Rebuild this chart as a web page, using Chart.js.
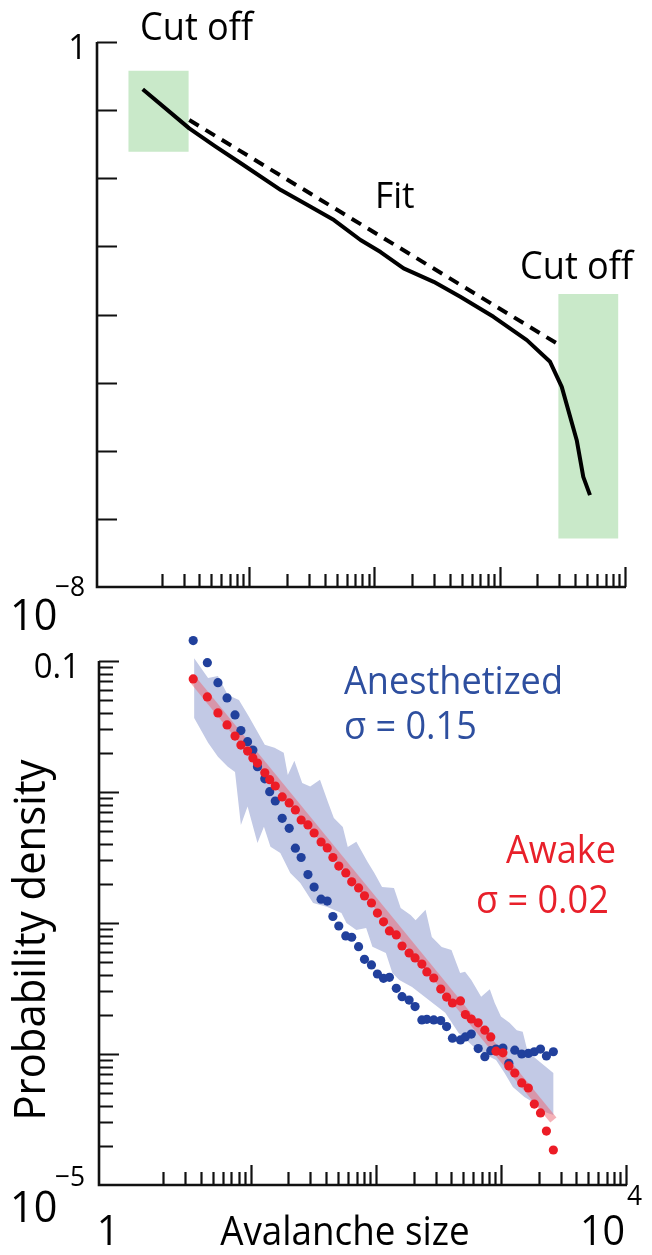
<!DOCTYPE html>
<html>
<head>
<meta charset="utf-8">
<script src="https://cdn.jsdelivr.net/npm/chart.js@4.4.0/dist/chart.umd.min.js"></script>
<style>
  html, body { margin: 0; padding: 0; background: #fff; }
  #wrap { position: relative; width: 652px; height: 1255px; overflow: hidden; }
  canvas { position: absolute; left: 0; }
  #topChart { top: 0; }
  #bottomChart { top: 600px; }
</style>
</head>
<body>
<div id="wrap">
  <canvas id="topChart" width="652" height="640"></canvas>
  <canvas id="bottomChart" width="652" height="655"></canvas>
</div>
<script>
// ---- top panel: distribution with fit and cut-off windows ----
const topSize = [1.39, 3.27, 5.24, 8.43, 17.6, 27.8, 46.7, 76.1, 110, 168, 292, 476, 876, 1617, 2478, 3071, 4044, 4562, 5159];
const topProb = [0.202, 0.054, 0.0297, 0.0166, 0.00671, 0.00418, 0.00243, 0.00124, 8.25e-4, 4.75e-4, 3.02e-4, 1.82e-4, 9.25e-5, 4.21e-5, 2.02e-5, 8.67e-6, 1.43e-6, 4.14e-7, 2.23e-7];
const topFitSize = [3.27, 2803];
const topFitProb = [0.0716, 3.77e-5];
const cutoffLeftSize = [1.07, 3.23];
const cutoffLeftProb = [0.379, 0.0245];
const cutoffRightSize = [2886, 8666];
const cutoffRightProb = [2.0e-4, 5.15e-8];

// ---- bottom panel: anesthetized vs awake ----
const binSize = [3.40, 4.41, 5.36, 6.34, 7.34, 8.18, 9.25, 10.2, 11.1, 12.7,
  13.9, 15.4, 17.5, 19.9, 22.3, 24.8, 28.1, 31.5, 35.8, 40.1,
  44.5, 49.6, 56.4, 62.9, 71.4, 79.6, 90.5, 101, 113, 126,
  143, 159, 181, 202, 229, 251, 285, 324, 361, 402,
  466, 510, 569, 646, 730, 814, 897, 1018, 1136, 1267,
  1439, 1626, 1814, 2034, 2268, 2577];
const anesthetized = [0.143, 0.0970, 0.0683, 0.0522, 0.0387, 0.0294, 0.0242, 0.0209, 0.0156, 0.0126,
  0.01005, 0.00853, 0.00629, 0.00528, 0.00372, 0.00316, 0.00234, 0.00188, 0.00152, 0.00147,
  0.00112, 9.48e-4, 7.96e-4, 7.78e-4, 6.59e-4, 5.28e-4, 4.78e-4, 4.08e-4, 3.78e-4, 3.85e-4,
  3.17e-4, 2.74e-4, 2.58e-4, 2.30e-4, 1.82e-4, 1.84e-4, 1.82e-4, 1.80e-4, 1.62e-4, 1.32e-4,
  1.28e-4, 1.35e-4, 1.42e-4, 1.10e-4, 9.53e-5, 1.06e-4, 1.09e-4, 1.11e-4, 8.50e-5, 1.07e-4,
  1.00e-4, 1.01e-4, 1.04e-4, 1.09e-4, 9.66e-5, 1.04e-4];
const awake = [0.0729, 0.0531, 0.0401, 0.0325, 0.0267, 0.0228, 0.0205, 0.0182, 0.0166, 0.0140,
  0.0124, 0.0111, 0.00917, 0.00824, 0.00729, 0.00611, 0.00560, 0.00486, 0.00415, 0.00374,
  0.00316, 0.00272, 0.00241, 0.00206, 0.00185, 0.00161, 0.00142, 0.00119, 0.00102, 8.69e-4,
  8.10e-4, 6.67e-4, 5.90e-4, 5.41e-4, 4.86e-4, 4.23e-4, 3.80e-4, 3.13e-4, 2.72e-4, 2.45e-4,
  2.54e-4, 2.00e-4, 1.85e-4, 1.73e-4, 1.52e-4, 1.35e-4, 1.05e-4, 1.02e-4, 8.10e-5, 7.16e-5,
  6.01e-5, 5.50e-5, 4.15e-5, 3.55e-5, 2.58e-5, 1.85e-5];
const awakeFitSize = [3.40, 2577];
const awakeFitProb = [0.0716, 3.13e-5];
const bandTopSize = [3.46, 4.47, 5.36, 6.43, 7.89, 9.47, 12.7, 15.2, 18.0, 19.4,
  21.9, 25.3, 29.3, 35.1, 40.6, 45.3, 53.4, 58.5, 68.5, 84.1,
  95.5, 110, 137, 155, 186, 204, 245, 275, 330, 395,
  423, 463, 507, 569, 682, 800, 876, 982, 1150, 1314,
  1466, 1606, 1926, 2577];
const bandTopProb = [0.105, 0.0742, 0.0767, 0.0549, 0.0503, 0.0376, 0.0229, 0.0217, 0.0199, 0.0135,
  0.0173, 0.0117, 0.0110, 0.0124, 0.00839, 0.00634, 0.00541, 0.00380, 0.00417, 0.00293,
  0.00241, 0.00188, 0.00185, 0.00130, 0.00115, 0.00105, 0.00126, 7.81e-4, 6.56e-4, 6.22e-4,
  5.22e-4, 4.15e-4, 4.25e-4, 3.67e-4, 2.74e-4, 3.12e-4, 2.45e-4, 1.93e-4, 1.73e-4, 1.52e-4,
  1.48e-4, 1.04e-4, 9.0e-5, 7.16e-5];
const bandLowSize = [3.46, 4.47, 5.36, 6.43, 7.34, 8.18, 9.25, 11.1, 12.5, 14.1,
  16.9, 20.3, 24.4, 30.9, 39.7, 52.1, 57.1, 68.5, 82.1, 92.1,
  118, 133, 151, 191, 260, 352, 449, 609, 747, 897,
  1050, 1222, 1512, 1814, 2175, 2577];
const bandLowProb = [0.0367, 0.0237, 0.0186, 0.0156, 0.0142, 0.00560, 0.00773, 0.00408, 0.00543, 0.00382,
  0.00342, 0.00241, 0.00202, 0.00142, 0.00133, 0.00119, 1.0e-3, 8.85e-4, 9.16e-4, 6.59e-4,
  5.90e-4, 4.15e-4, 3.67e-4, 3.24e-4, 2.58e-4, 2.06e-4, 1.45e-4, 1.11e-4, 9.82e-5, 9.0e-5,
  7.16e-5, 5.60e-5, 4.70e-5, 4.23e-5, 3.63e-5, 3.42e-5];

// ---- ticks ----
const xMajorTicks = [10, 100, 1000, 10000];
const xMinorTicks = [2, 3, 4, 5, 6, 7, 8, 9, 20, 30, 40, 50, 60, 70, 80, 90,
  200, 300, 400, 500, 600, 700, 800, 900, 2000, 3000, 4000, 5000, 6000, 7000, 8000, 9000];
const topYTicks = [1, 0.1, 0.01, 1e-3, 1e-4, 1e-5, 1e-6, 1e-7];
const bottomYMajorTicks = [0.1, 0.01, 1e-3, 1e-4];
const bottomYMinorTicks = [0.09, 0.08, 0.07, 0.06, 0.05, 0.04, 0.03, 0.02,
  0.009, 0.008, 0.007, 0.006, 0.005, 0.004, 0.003, 0.002,
  9e-4, 8e-4, 7e-4, 6e-4, 5e-4, 4e-4, 3e-4, 2e-4,
  9e-5, 8e-5, 7e-5, 6e-5, 5e-5, 4e-5, 3e-5, 2e-5];

const FONT = '"Open Sans", "DejaVu Sans", sans-serif';
const BLUE = '#21409c';
const RED = '#ec1c26';

function pts(xs, ys) {
  return xs.map((x, i) => ({ x: x, y: ys[i] }));
}
function box(xs, ys) {
  return [{ x: xs[0], y: ys[0] }, { x: xs[1], y: ys[0] }, { x: xs[1], y: ys[1] }, { x: xs[0], y: ys[1] }];
}
// text with a slight horizontal squeeze (the original face is narrower)
function text(ctx, s, x, y, size, color, align, sx) {
  ctx.save();
  ctx.translate(x, y);
  ctx.scale(sx || 0.94, 1);
  ctx.font = size + 'px ' + FONT;
  ctx.fillStyle = color || '#000';
  ctx.textAlign = align || 'left';
  ctx.textBaseline = 'alphabetic';
  ctx.fillText(s, 0, 0);
  ctx.restore();
}

// axes with inward ticks, drawn through the chart scales
const axesPlugin = {
  id: 'inwardAxes',
  afterDatasetsDraw(chart, args, opts) {
    const { ctx, chartArea: a, scales: { x, y } } = chart;
    const top = opts.yTop ? y.getPixelForValue(opts.yTop) : a.top;
    ctx.save();
    ctx.strokeStyle = '#111';
    ctx.lineWidth = 2.6;
    ctx.beginPath();
    ctx.moveTo(a.left, top);
    ctx.lineTo(a.left, a.bottom);
    ctx.lineTo(a.right, a.bottom);
    ctx.stroke();
    ctx.lineWidth = 2.2;
    ctx.beginPath();
    (opts.xMajor || []).forEach(v => {
      const p = Math.round(x.getPixelForValue(v)) - 0.5;
      ctx.moveTo(p, a.bottom); ctx.lineTo(p, a.bottom - 20);
    });
    (opts.xMinor || []).forEach(v => {
      const p = Math.round(x.getPixelForValue(v)) - 0.5;
      ctx.moveTo(p, a.bottom); ctx.lineTo(p, a.bottom - 13);
    });
    (opts.yMajor || []).forEach(v => {
      const p = Math.round(y.getPixelForValue(v)) + 0.5;
      ctx.moveTo(a.left, p); ctx.lineTo(a.left + 20, p);
    });
    (opts.yMinor || []).forEach(v => {
      const p = Math.round(y.getPixelForValue(v)) + 0.5;
      ctx.moveTo(a.left, p); ctx.lineTo(a.left + 14, p);
    });
    ctx.stroke();
    ctx.restore();
    if (opts.labels) opts.labels(chart);
  }
};

function baseOptions(padding, xMin, yMin, yMax, axisOpts) {
  return {
    responsive: false,
    animation: false,
    events: [],
    layout: { padding: padding },
    plugins: { legend: { display: false }, tooltip: { enabled: false }, inwardAxes: axisOpts },
    scales: {
      x: { type: 'logarithmic', min: xMin, max: 10000, display: false },
      y: { type: 'logarithmic', min: yMin, max: yMax, display: false }
    }
  };
}

// ---------- top chart ----------
new Chart(document.getElementById('topChart'), {
  type: 'scatter',
  plugins: [axesPlugin],
  data: {
    datasets: [
      { data: pts(topSize, topProb), showLine: true, borderColor: '#000', borderWidth: 4,
        pointRadius: 0, tension: 0, borderJoinStyle: 'round', borderCapStyle: 'butt', clip: false, order: 1 },
      { data: pts(topFitSize, topFitProb), showLine: true, borderColor: '#000', borderWidth: 4,
        borderDash: [11, 8], pointRadius: 0, clip: false, order: 2 },
      { data: box(cutoffLeftSize, cutoffLeftProb), showLine: true, borderWidth: 0, borderColor: 'rgba(0,0,0,0)',
        backgroundColor: '#c9e9c9', fill: 'shape', pointRadius: 0, clip: false, order: 5 },
      { data: box(cutoffRightSize, cutoffRightProb), showLine: true, borderWidth: 0, borderColor: 'rgba(0,0,0,0)',
        backgroundColor: '#c9e9c9', fill: 'shape', pointRadius: 0, clip: false, order: 5 }
    ]
  },
  options: baseOptions({ left: 97, right: 26, top: 42, bottom: 53 }, 0.615, 1e-8, 1, {
    xMajor: xMajorTicks, xMinor: xMinorTicks, yMajor: topYTicks, yMinor: [],
    labels(chart) {
      const ctx = chart.ctx;
      const a = chart.chartArea;
      const y = chart.scales.y;
      text(ctx, '1', a.left - 10, y.getPixelForValue(1) + 17, 35, '#000', 'right');
      text(ctx, '10', 10, a.bottom + 43, 44);
      text(ctx, '\u22128', 55, a.bottom + 9, 28);
      text(ctx, 'Cut off', 140, 40, 38, '#000', 'left', 0.95);
      text(ctx, 'Fit', 375, 208, 37, '#000', 'left', 0.95);
      text(ctx, 'Cut off', 520, 279, 38, '#000', 'left', 0.95);
    }
  })
});

// ---------- bottom chart ----------
new Chart(document.getElementById('bottomChart'), {
  type: 'scatter',
  plugins: [axesPlugin],
  data: {
    datasets: [
      { data: pts(binSize, awake), backgroundColor: RED, pointRadius: 4.6, borderWidth: 0, clip: false, order: 1 },
      { data: pts(binSize, anesthetized), backgroundColor: BLUE, pointRadius: 4.6, borderWidth: 0, clip: false, order: 2 },
      { data: pts(awakeFitSize, awakeFitProb), showLine: true, borderColor: 'rgba(236,100,112,0.5)', borderWidth: 8,
        pointRadius: 0, clip: false, order: 3 },
      { data: pts(bandTopSize, bandTopProb).concat(pts(bandLowSize, bandLowProb).reverse()), showLine: true,
        borderWidth: 0, borderColor: 'rgba(0,0,0,0)', backgroundColor: '#c2c9e5', fill: 'shape',
        pointRadius: 0, tension: 0, clip: false, order: 5 }
    ]
  },
  // y runs to 0.2 so the first dot above 0.1 is kept; the axis itself stops at 0.1
  options: baseOptions({ left: 99, right: 25, top: 21.5, bottom: 70 }, 0.633, 1e-5, 0.2, {
    yTop: 0.1,
    xMajor: xMajorTicks, xMinor: xMinorTicks, yMajor: bottomYMajorTicks, yMinor: bottomYMinorTicks,
    labels(chart) {
      const ctx = chart.ctx;
      const a = chart.chartArea;
      const y = chart.scales.y;
      text(ctx, '0.1', 80, y.getPixelForValue(0.1) + 17, 35, '#000', 'right');
      text(ctx, '10', 10, a.bottom + 37, 44);
      text(ctx, '\u22125', 55, a.bottom + 1, 28);
      text(ctx, '1', 108, a.bottom + 60, 42, '#000', 'center');
      text(ctx, '10', 580, a.bottom + 60, 42);
      text(ctx, '4', 627, a.bottom + 20, 28);
      text(ctx, 'Avalanche size', 345, a.bottom + 60, 40, '#000', 'center', 0.92);
      ctx.save();
      ctx.translate(45, 340);
      ctx.rotate(-Math.PI / 2);
      text(ctx, 'Probability density', 0, 0, 44, '#000', 'center', 0.95);
      ctx.restore();
      text(ctx, 'Anesthetized', 344, 94, 38, '#2e4f9f', 'left', 0.95);
      text(ctx, '\u03c3 = 0.15', 344, 139, 38, '#2e4f9f', 'left', 0.95);
      text(ctx, 'Awake', 506, 263, 38, '#e8202a', 'left', 0.95);
      text(ctx, '\u03c3 = 0.02', 476, 313, 38, '#e8202a', 'left', 0.95);
    }
  })
});
</script>
</body>
</html>
